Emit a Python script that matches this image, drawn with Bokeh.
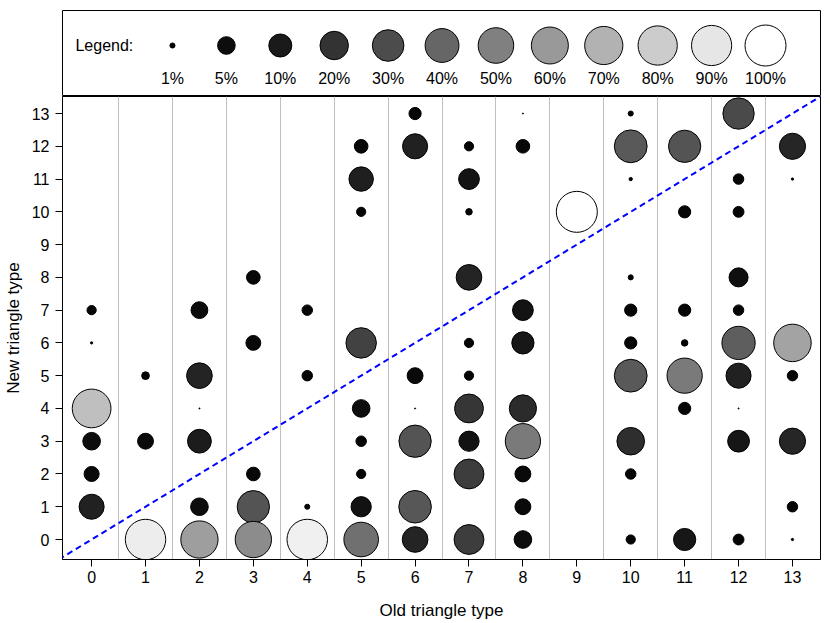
import math
from bokeh.plotting import figure
from bokeh.models import Range1d, FixedTicker, Slope, ColumnDataSource
from bokeh.layouts import column
from bokeh.core.properties import value
from bokeh.embed import file_html
from bokeh.resources import INLINE

# ---- data: old type (x), new type (y), percentage of old type moving to new type
old_type = [0, 0, 0, 0, 0, 0,
            1, 1, 1,
            2, 2, 2, 2, 2, 2,
            3, 3, 3, 3, 3,
            4, 4, 4, 4,
            5, 5, 5, 5, 5, 5, 5, 5, 5,
            6, 6, 6, 6, 6, 6, 6,
            7, 7, 7, 7, 7, 7, 7, 7, 7, 7,
            8, 8, 8, 8, 8, 8, 8, 8, 8,
            9,
            10, 10, 10, 10, 10, 10, 10, 10, 10, 10,
            11, 11, 11, 11, 11, 11, 11,
            12, 12, 12, 12, 12, 12, 12, 12, 12, 12,
            13, 13, 13, 13, 13, 13, 13]
new_type = [7, 6, 4, 3, 2, 1,
            5, 3, 0,
            7, 5, 4, 3, 1, 0,
            8, 6, 2, 1, 0,
            7, 5, 1, 0,
            12, 11, 10, 6, 4, 3, 2, 1, 0,
            13, 12, 5, 4, 3, 1, 0,
            12, 11, 10, 8, 6, 5, 4, 3, 2, 0,
            13, 12, 7, 6, 4, 3, 2, 1, 0,
            10,
            13, 12, 11, 8, 7, 6, 5, 3, 2, 0,
            12, 10, 7, 6, 5, 4, 0,
            13, 11, 10, 8, 7, 6, 5, 4, 3, 0,
            12, 11, 6, 5, 3, 1, 0]
pct = [1.7, 0.7, 75, 5, 3.6, 13,
       1.4, 4, 93,
       4.5, 14, 0.6, 11, 5, 62,
       3, 3.5, 3, 33, 55,
       2, 2, 1, 94,
       3, 12, 1.7, 26, 5, 2, 1.7, 7, 44,
       2.5, 13, 4, 0.6, 33, 34, 14,
       1.7, 7.5, 1.2, 14, 1.7, 1.7, 21, 7, 24, 24,
       0.6, 3, 7.5, 9, 17, 48, 4, 4, 5,
       100,
       1, 35, 0.8, 1, 2.5, 2.5, 35, 18, 2, 1.7,
       33, 2.5, 2.5, 1.2, 48, 2.5, 9,
       29, 2, 2.1, 6, 2, 37, 13, 0.6, 8.5, 2.1,
       15, 0.7, 64, 2, 15, 2, 0.7]

legend_pct = [1, 5, 10, 20, 30, 40, 50, 60, 70, 80, 90, 100]
legend_labels = ["1%", "5%", "10%", "20%", "30%", "40%", "50%", "60%", "70%", "80%", "90%", "100%"]
x_ticks = list(range(14))
y_ticks = list(range(14))

FONT = "Liberation Sans"
FS = "16px"
FS_LAB = "17px"


def diam(p):
    return max(42 + 7.8 * math.log(p / 100.0), 1.5) - 1


def gray(p):
    g = int(round(255 * p / 100.0))
    return "#%02x%02x%02x" % (g, g, g)


xr = Range1d(-0.54, 13.52)

# ---- legend box
leg = figure(width=826, height=96, x_range=xr, y_range=Range1d(86, 0),
             x_axis_location=None, y_axis_location=None,
             output_backend="svg", toolbar_location=None,
             min_border_top=10, min_border_bottom=0, min_border_left=62, min_border_right=6)
leg.grid.visible = False
leg.outline_line_color = "black"
leg.outline_line_width = 1

lsrc = ColumnDataSource(dict(
    x=[1.5 + i for i in range(len(legend_pct))],
    yc=[35] * len(legend_pct),
    yt=[68] * len(legend_pct),
    size=[diam(v) for v in legend_pct],
    color=[gray(v) for v in legend_pct],
    label=legend_labels,
))
leg.scatter("x", "yc", size="size", fill_color="color", line_color="black", line_width=1, source=lsrc)
leg.text("x", "yt", text="label", source=lsrc, text_align="center", text_baseline="middle",
         text_font=value(FONT), text_font_size=value(FS), text_color="black")
leg.text([-0.30], [35], text=["Legend:"], text_align="left", text_baseline="middle",
         text_font=value(FONT), text_font_size=value(FS), text_color="black")

# ---- main plot
p = figure(width=826, height=526, x_range=xr, y_range=Range1d(-0.61, 13.52),
           output_backend="svg", toolbar_location=None,
           min_border_top=0, min_border_left=62, min_border_right=6, min_border_bottom=62,
           x_axis_label="Old triangle type", y_axis_label="New triangle type")
p.outline_line_color = "black"
p.outline_line_width = 1
p.ygrid.visible = False
p.xgrid.ticker = FixedTicker(ticks=[i + 0.5 for i in range(13)])
p.xgrid.grid_line_color = "#bfbfbf"
p.xgrid.grid_line_width = 1

p.xaxis.ticker = FixedTicker(ticks=x_ticks)
p.yaxis.ticker = FixedTicker(ticks=y_ticks)
for ax in (p.xaxis, p.yaxis):
    ax.axis_line_color = "black"
    ax.major_tick_line_color = "black"
    ax.minor_tick_line_color = None
    ax.major_tick_in = 0
    ax.major_tick_out = 7
    ax.major_label_text_font = FONT
    ax.major_label_text_font_size = FS
    ax.major_label_text_color = "black"
    ax.axis_label_text_font = FONT
    ax.axis_label_text_font_size = FS_LAB
    ax.axis_label_text_font_style = "normal"
    ax.axis_label_text_color = "black"
p.xaxis.major_label_standoff = 4
p.xaxis.axis_label_standoff = 15
p.yaxis.major_label_standoff = 6
p.yaxis.axis_label_standoff = 6

p.add_layout(Slope(gradient=1, y_intercept=0, line_color="blue", line_width=2, line_dash="6 4"))

src = ColumnDataSource(dict(
    x=old_type, y=new_type,
    size=[diam(v) for v in pct],
    color=[gray(v) for v in pct],
))
p.scatter("x", "y", size="size", fill_color="color", line_color="black", line_width=1, source=src)

layout = column(leg, p, spacing=0)
open("out.html", "w").write(file_html(layout, INLINE))
